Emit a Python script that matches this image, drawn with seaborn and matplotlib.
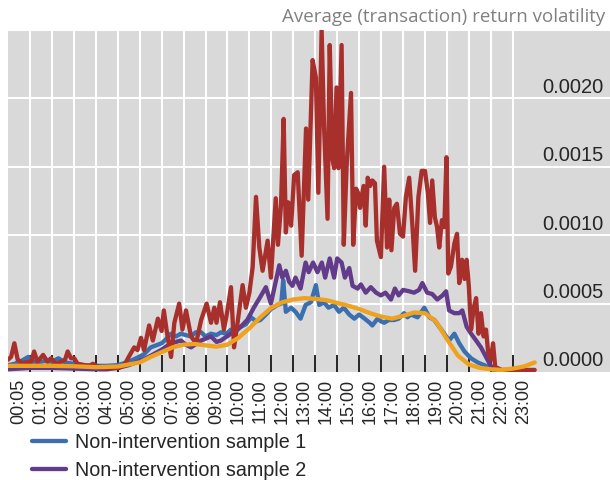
import numpy as np
import pandas as pd
import matplotlib
matplotlib.use("Agg")
import matplotlib.pyplot as plt
import matplotlib.transforms as mtransforms
from matplotlib.lines import Line2D
import seaborn as sns

# Values, x in hours after midnight, y in units of 1e-4
red_h = [0.0, 0.14, 0.29, 0.44, 0.67, 0.9, 1.05, 1.19, 1.34, 1.6, 1.8, 1.96, 2.2, 2.42, 2.6,
         2.72, 2.87, 3.02, 3.17, 3.47, 3.7, 3.87, 4.02, 4.3, 4.7, 5.06, 5.3, 5.5, 5.75, 5.9,
         6.06, 6.2, 6.43, 6.6, 6.83, 7.0, 7.1, 7.25, 7.43, 7.58, 7.8, 7.95, 8.11, 8.34, 8.57,
         8.8, 9.05, 9.25, 9.4, 9.5, 9.66, 9.84, 10.0, 10.16, 10.3, 10.46, 10.69, 10.84, 11.0,
         11.15, 11.3, 11.45, 11.6, 11.83, 11.98, 12.2, 12.3, 12.44, 12.56, 12.66, 12.77, 12.9,
         13.04, 13.2, 13.38, 13.58, 13.68, 13.88, 14.03, 14.14, 14.29, 14.4, 14.56, 14.66,
         14.78, 14.86, 14.97, 15.06, 15.2, 15.3, 15.43, 15.63, 15.73, 15.86, 15.95, 16.04,
         16.2, 16.3, 16.39, 16.5, 16.6, 16.72, 16.81, 16.99, 17.14, 17.27, 17.37, 17.47, 17.6,
         17.72, 17.86, 18.0, 18.13, 18.28, 18.43, 18.55, 18.7, 18.85, 19.0, 19.13, 19.23,
         19.33, 19.45, 19.55, 19.65, 19.77, 19.88, 19.98, 20.06, 20.18, 20.34, 20.46, 20.56,
         20.69, 20.8, 20.9, 21.0, 21.1, 21.22, 21.33, 21.44, 21.55, 21.67, 21.78, 21.88, 22.0,
         22.1, 22.2, 22.5, 23.0, 23.5, 24.0]
red_v = [0.9, 1.1, 2.1, 0.9, 0.65, 0.75, 0.7, 1.5, 0.75, 1.25, 0.75, 1.0, 0.6, 0.75, 0.9,
         1.5, 1.0, 1.0, 0.6, 0.5, 0.45, 0.6, 0.45, 0.3, 0.3, 0.3, 0.5, 1.1, 1.8, 1.6,
         2.5, 1.6, 3.4, 2.3, 3.9, 3.0, 4.5, 2.8, 1.1, 3.6, 5.0, 3.1, 4.5, 2.6, 2.1,
         3.8, 5.0, 3.6, 4.7, 3.6, 5.1, 3.1, 4.5, 6.2, 1.8, 3.6, 6.35, 4.7, 5.8,
         7.7, 12.8, 9.1, 7.4, 9.6, 6.9, 12.7, 9.3, 12.2, 18.5, 10.2, 12.4, 10.7,
         14.4, 14.6, 8.5, 17.8, 12.6, 22.8, 21.5, 13.1, 25.0, 18.0, 11.2, 23.9,
         15.6, 14.9, 20.8, 14.9, 23.9, 9.3, 15.1, 20.4, 9.3, 13.4, 13.1, 12.0,
         13.6, 10.7, 14.2, 13.6, 14.0, 13.8, 9.6, 8.4, 15.0, 9.1, 12.6, 8.9, 12.0,
         12.3, 10.1, 9.9, 12.8, 14.2, 10.6, 7.4, 12.8, 14.7, 14.7, 13.1, 10.9,
         14.0, 11.3, 10.6, 9.1, 11.1, 10.6, 15.7, 7.2, 7.7, 9.4, 10.1, 6.5,
         8.2, 6.8, 8.2, 6.2, 3.1, 4.7, 5.4, 2.8, 4.3, 2.6, 3.1, 1.4, 0.9,
         2.1, 0.37, 0.15, 0.15, 0.15, 0.15]

blue_h = [0.0, 0.3, 0.6, 0.92, 1.1, 1.3, 1.7, 2.0, 2.3, 2.6, 3.0, 3.5, 4.0, 4.5, 5.0, 5.5,
          5.9, 6.2, 6.5, 7.0, 7.2, 7.43, 7.65, 7.88, 8.1, 8.34, 8.55, 8.8, 9.0, 9.25, 9.5,
          9.7, 9.95, 10.16, 10.4, 10.6, 10.85, 11.07, 11.3, 11.5, 11.75, 11.98, 12.28, 12.45,
          12.54, 12.66, 12.9, 13.1, 13.33, 13.56, 13.8, 14.03, 14.18, 14.4, 14.6, 14.86,
          15.08, 15.3, 15.55, 15.78, 16.0, 16.25, 16.48, 16.6, 16.84, 17.0, 17.14, 17.35,
          17.6, 17.8, 18.05, 18.2, 18.36, 18.66, 18.97, 19.2, 19.43, 19.65, 19.88, 20.1,
          20.34, 20.56, 20.8, 21.1, 21.4, 21.7, 22.0, 22.2]
blue_v = [0.5, 0.6, 0.8, 1.1, 0.8, 0.7, 0.8, 0.75, 1.0, 0.7, 0.6, 0.5, 0.45, 0.45, 0.5, 0.75,
          1.05, 1.3, 1.8, 2.1, 2.4, 2.8, 2.6, 2.8, 2.7, 2.6, 2.9, 2.9, 2.6, 2.8, 2.7,
          2.9, 2.8, 3.1, 3.0, 3.3, 3.5, 4.0, 3.7, 3.8, 4.2, 4.6, 4.9, 5.0,
          6.7, 4.4, 4.7, 4.4, 3.9, 4.9, 5.1, 6.35, 4.9, 5.1, 4.7, 4.9,
          4.4, 4.7, 4.2, 3.9, 4.2, 3.9, 3.6, 3.4, 3.9, 3.7, 3.6, 3.8,
          3.8, 3.9, 4.3, 4.0, 4.2, 4.0, 4.7, 4.0, 3.8, 3.3, 2.8, 2.3,
          2.8, 2.1, 1.5, 1.0, 0.7, 0.5, 0.3, 0.1]

purple_h = [0.0, 0.5, 1.0, 2.0, 3.0, 4.0, 4.5, 5.0, 5.5, 6.0, 6.4, 6.97, 7.43, 7.88, 8.1,
            8.34, 8.8, 9.25, 9.5, 9.7, 10.16, 10.6, 10.9, 11.2, 11.5, 11.75, 11.98, 12.13,
            12.36, 12.5, 12.66, 12.81, 12.96, 13.1, 13.33, 13.56, 13.7, 13.9, 14.1, 14.3,
            14.45, 14.66, 14.86, 15.0, 15.2, 15.35, 15.55, 15.7, 15.93, 16.08, 16.3, 16.53,
            16.77, 16.99, 17.2, 17.45, 17.63, 17.8, 18.0, 18.28, 18.5, 18.73, 18.88, 19.1,
            19.33, 19.56, 19.8, 19.96, 20.1, 20.34, 20.56, 20.7, 20.9, 21.1, 21.33, 21.55,
            21.78, 21.98, 22.1]
purple_v = [0.2, 0.25, 0.3, 0.3, 0.25, 0.2, 0.2, 0.3, 0.5, 0.8, 1.1, 1.6, 2.1, 2.3, 2.0,
            1.8, 2.3, 2.6, 2.2, 2.3, 2.8, 3.3, 3.8, 4.7, 5.5, 6.2, 5.0, 6.1,
            7.8, 6.9, 7.4, 6.6, 6.3, 6.9, 6.1, 8.0, 7.3, 8.0, 7.3, 8.0,
            6.9, 8.3, 6.9, 8.3, 8.0, 6.9, 7.6, 6.3, 6.1, 6.4, 5.8, 6.2,
            5.8, 5.6, 5.8, 5.3, 6.1, 5.6, 6.0, 5.9, 5.8, 6.0, 6.5, 5.8,
            5.7, 5.3, 5.6, 5.9, 4.5, 4.3, 4.3, 4.5, 3.3, 2.8, 2.3, 1.8,
            1.1, 0.5, 0.2]

orange_h = [0, 1, 2, 3, 4, 5, 5.5, 6, 6.5, 7, 7.5, 8, 8.5, 9, 9.5, 10, 10.5, 11, 11.5, 12,
            12.5, 13, 13.5, 14, 14.5, 15, 15.5, 16, 16.5, 17, 17.5, 18, 18.5, 19, 19.5, 20,
            20.5, 21, 21.5, 22, 22.5, 23, 23.5, 24]
orange_v = [0.45, 0.45, 0.45, 0.42, 0.35, 0.4, 0.55, 0.7, 1.1, 1.45, 1.8, 2.0, 2.05, 1.95,
            1.85, 2.0, 2.5, 3.2, 4.0, 4.7, 5.1, 5.3, 5.4, 5.35, 5.25, 5.05, 4.85, 4.6, 4.3,
            4.05, 3.9, 4.1, 4.35, 4.3, 3.7, 2.4, 1.2, 0.55, 0.3, 0.2, 0.15, 0.25, 0.4, 0.7]

tick_labels = ["00:05"] + ["%02d:00" % h for h in range(1, 24)]
y_levels = [0.0, 0.0005, 0.0010, 0.0015, 0.0020]

sns.set_style("darkgrid", {"axes.facecolor": "#D9D9D9", "grid.color": "white"})
plt.rcParams["font.family"] = ["Liberation Sans", "DejaVu Sans"]

fig = plt.figure(figsize=(6.1, 4.8), dpi=100)
ax = fig.add_axes([8 / 610, 108 / 480, 602 / 610, 342 / 480])

lw = 3.1
series = [(blue_h, blue_v, "#3B6FB0"), (purple_h, purple_v, "#623B8A"),
          (red_h, red_v, "#A8302C"), (orange_h, orange_v, "#EEA21F")]
for hrs, vals, col in series:
    df = pd.DataFrame({"h": hrs, "v": np.array(vals) * 1e-4})
    sns.lineplot(data=df, x="h", y="v", color=col, lw=lw, ax=ax,
                 estimator=None, errorbar=None, solid_joinstyle="round")

ax.set_xlim(0, 27.43)
ax.set_ylim(0, 0.0025)
ax.set_xlabel("")
ax.set_ylabel("")

# category labels sit between the hour separators
ax.set_xticks(np.arange(24) + 0.5)
ax.set_xticklabels(tick_labels, rotation=90, fontsize=13)
ax.set_xticks(np.arange(1, 24), minor=True)
ax.tick_params(axis="x", which="major", length=0, pad=5)
ax.tick_params(axis="x", which="minor", direction="in", length=12, width=1.2,
               color="black", bottom=True)
ax.grid(False)
ax.grid(which="minor", axis="x", color="white", lw=1.5)
ax.set_yticks([0.0005, 0.0010, 0.0015, 0.0020, 0.0025])
ax.set_yticklabels([])
ax.tick_params(axis="y", length=0)
ax.grid(which="major", axis="y", color="white", lw=1.5)
for s in ax.spines.values():
    s.set_visible(False)

off = mtransforms.ScaledTranslation(0, 11 / 100, fig.dpi_scale_trans)
for v in y_levels:
    ax.text(0.99, v, "%.4f" % v, transform=ax.get_yaxis_transform() + off,
            ha="right", va="center", fontsize=14.5)

fig.text(0.992, 0.964, "Average (transaction) return volatility", ha="right",
         va="center", fontsize=13.5, color="#808080", family=["Open Sans", "DejaVu Sans"])

handles = [Line2D([], [], color="#3B6FB0", lw=lw),
           Line2D([], [], color="#623B8A", lw=lw)]
fig.legend(handles, ["Non-intervention sample 1", "Non-intervention sample 2"],
           loc="upper left", bbox_to_anchor=(32 / 610, 1 - 433 / 480), frameon=False,
           fontsize=14.2, handlelength=1.7, handletextpad=0.5, labelspacing=0.45,
           borderpad=0, borderaxespad=0)

fig.savefig("out.png", dpi=100)
